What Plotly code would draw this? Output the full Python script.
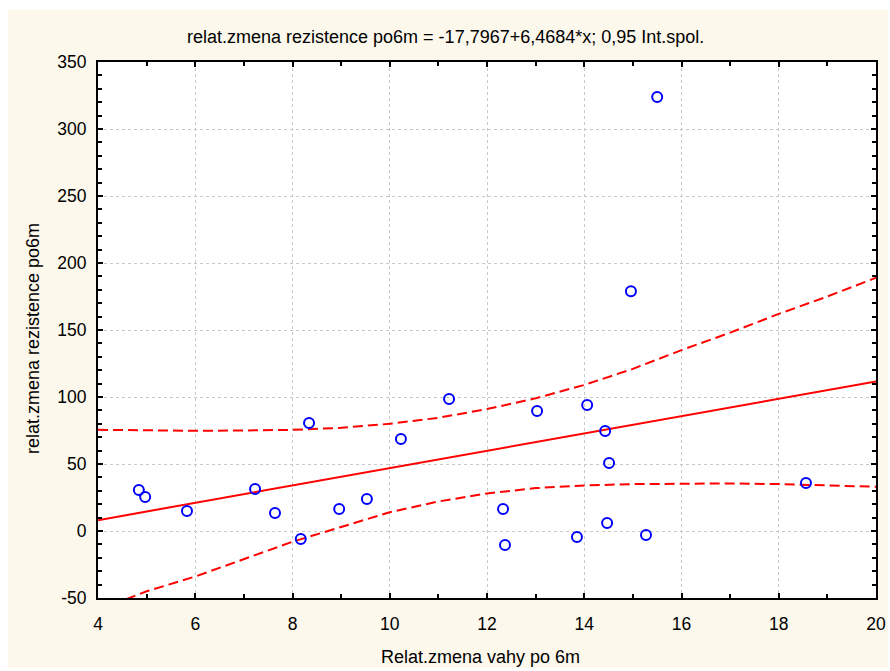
import plotly.graph_objects as go

# observed data points
x_vals = [4.84, 4.97, 5.83, 7.23, 7.64, 8.17, 8.34, 8.96, 9.53, 10.23, 11.22, 12.33,
          12.37, 13.03, 13.85, 14.06, 14.43, 14.47, 14.51, 14.96, 15.27, 15.50, 18.56]
y_vals = [30.6, 25.4, 14.9, 31.3, 13.4, -6.0, 80.6, 16.4, 23.9, 68.7, 98.5, 16.4,
          -10.4, 89.6, -4.5, 94.0, 74.6, 6.0, 50.7, 179.0, -3.0, 323.9, 35.8]

# regression line end points (as read)
fit_x = [4, 20]
fit_y = [8.1, 111.6]

# 0.95 confidence band (as read)
band_x = [4, 5, 6, 7, 8, 9, 10, 11, 12, 13, 14, 15, 16, 17, 18, 19, 20]
band_upper = [75.5, 75, 74.8, 75, 75.5, 77, 80, 84.5, 91, 99, 109, 121, 135, 148, 162, 175, 189]
band_lower = [-59, -45, -34, -21, -8, 3, 14, 22, 28, 32, 34, 35, 35.5, 35.5, 35, 34, 33]

# tick labels
y_tickvals = [-50, 0, 50, 100, 150, 200, 250, 300, 350]
y_ticktext = ["-50", "0", "50", "100", "150", "200", "250", "300", "350"]

title_text = "relat.zmena rezistence po6m = -17,7967+6,4684*x; 0,95 Int.spol."
x_title = "Relat.zmena vahy po 6m"
y_title = "relat.zmena rezistence po6m"

FONT = "Liberation Sans, Arial, sans-serif"

fig = go.Figure()
fig.add_trace(go.Scatter(x=band_x, y=band_upper, mode="lines",
                         line=dict(color="#ff0000", width=2, dash="10px,5px"), hoverinfo="skip"))
fig.add_trace(go.Scatter(x=band_x, y=band_lower, mode="lines",
                         line=dict(color="#ff0000", width=2, dash="10px,5px"), hoverinfo="skip"))
fig.add_trace(go.Scatter(x=fit_x, y=fit_y, mode="lines",
                         line=dict(color="#ff0000", width=2)))
fig.add_trace(go.Scatter(x=x_vals, y=y_vals, mode="markers",
                         marker=dict(symbol="circle-open", size=10, color="#0000ff",
                                     line=dict(width=2, color="#0000ff"))))

W, H = 890, 671
L, R, T, B = 98, 876, 62, 598
pw, ph = R - L, B - T

def pxp(page_x):
    return (page_x - L) / pw

def pyp(page_y):
    return (B - page_y) / ph

fig.update_layout(
    width=W, height=H,
    margin=dict(l=L, r=W - R, t=T, b=H - B, pad=0, autoexpand=False),
    paper_bgcolor="#ffffff",
    plot_bgcolor="#ffffff",
    showlegend=False,
    font=dict(family=FONT, size=17.5, color="#000000"),
    shapes=[
        dict(type="rect", xref="paper", yref="paper", layer="below",
             x0=pxp(8), x1=pxp(888), y0=pyp(668), y1=pyp(10),
             fillcolor="#fdf8ec", line=dict(width=0)),
        dict(type="rect", xref="paper", yref="paper", layer="below",
             x0=0, x1=1, y0=0, y1=1,
             fillcolor="#ffffff", line=dict(width=0)),
    ],
    annotations=[
        dict(text=title_text, xref="paper", yref="paper", x=pxp(445), y=pyp(37),
             xanchor="center", yanchor="middle", showarrow=False,
             font=dict(family=FONT, size=18, color="#000000")),
        dict(text=x_title, xref="paper", yref="paper", x=pxp(480), y=pyp(657),
             xanchor="center", yanchor="middle", showarrow=False,
             font=dict(family=FONT, size=18, color="#000000")),
        dict(text=y_title, xref="paper", yref="paper", x=pxp(33), y=pyp(339),
             xanchor="center", yanchor="middle", showarrow=False, textangle=-90,
             font=dict(family=FONT, size=18, color="#000000")),
    ],
)

fig.update_xaxes(
    range=[4, 20], dtick=2, tick0=4, automargin=False,
    showline=True, linecolor="#000000", linewidth=2, mirror="ticks",
    ticks="inside", ticklen=5, tickwidth=1.5, tickcolor="#000000",
    minor=dict(dtick=1, ticks="inside", ticklen=4, tickwidth=1.5, tickcolor="#000000", showgrid=False),
    showgrid=True, gridcolor="#c8c8c8", griddash="dot", gridwidth=1,
    zeroline=False,
    tickfont=dict(family=FONT, size=17.5),
    ticklabelstandoff=9,
)
fig.update_yaxes(
    range=[-50, 350], tickmode="array", tickvals=y_tickvals, ticktext=y_ticktext,
    automargin=False,
    showline=True, linecolor="#000000", linewidth=2, mirror="ticks",
    ticks="inside", ticklen=5, tickwidth=1.5, tickcolor="#000000",
    minor=dict(dtick=10, tick0=0, ticks="inside", ticklen=4, tickwidth=1.5, tickcolor="#000000", showgrid=False),
    showgrid=True, gridcolor="#c8c8c8", griddash="dot", gridwidth=1,
    zeroline=False,
    tickfont=dict(family=FONT, size=17.5),
    ticklabelstandoff=6,
)

fig.write_html(
    "out.html",
    config={"displayModeBar": False},
    post_script="document.body.style.margin='0';document.body.style.overflow='hidden';",
)
